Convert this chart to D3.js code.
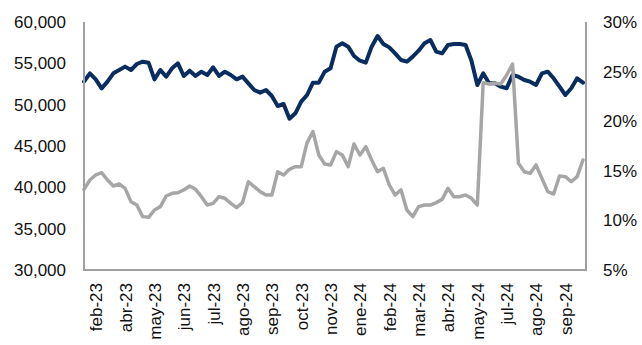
<!DOCTYPE html>
<html>
<head>
<meta charset="utf-8">
<script src="https://cdn.jsdelivr.net/npm/d3@7"></script>
<style>
  html, body { margin: 0; padding: 0; background: #fff; }
  svg { display: block; }
  text { font-family: "Liberation Sans", Arial, sans-serif; }
</style>
</head>
<body>
<svg id="chart" width="642" height="345"></svg>
<script>
// Tick labels along the x axis (one every `tickEvery` weekly observations)
const tickLabels = ["feb-23","abr-23","may-23","jun-23","jul-23","ago-23","sep-23","oct-23","nov-23",
  "ene-24","feb-24","mar-24","abr-24","may-24","jul-24","ago-24","sep-24"];
const tickStart = 2;
const tickEvery = 5;

// Left-axis series (navy), weekly observations
const seriesLevel = [
  52780,53790,53065,51980,52780,53790,54190,54600,54190,54920,
  55200,55080,53065,54190,53390,54400,55000,53470,54110,53470,
  53990,53590,54520,53470,53990,53590,53065,53390,52580,51775,
  51450,51775,51050,49840,50080,48300,48950,50360,51170,52660,
  52660,53990,54400,57016,57420,57016,55890,55320,55080,57016,
  58306,57340,56930,56210,55400,55200,55810,56530,57420,57820,
  56410,56210,57220,57340,57340,57220,55320,52380,53790,52580,
  52580,52180,51980,53590,53390,52980,52780,52380,53790,53990,
  53190,52180,51170,51980,53190,52660
];

// Right-axis series (grey, %), weekly observations
const seriesPct = [
  13.13,14.07,14.58,14.81,14.07,13.47,13.67,13.23,11.89,11.55,
  10.38,10.31,11.05,11.39,12.46,12.73,12.79,13.07,13.47,13.13,
  12.39,11.55,11.72,12.39,12.23,11.72,11.29,11.79,13.90,13.40,
  12.90,12.56,12.56,14.91,14.58,15.15,15.42,15.42,17.84,18.95,
  16.59,15.69,15.59,16.93,16.59,15.42,17.70,16.59,17.43,16.09,
  14.91,15.25,13.57,12.56,13.07,11.05,10.38,11.39,11.55,11.55,
  11.79,12.12,13.23,12.39,12.39,12.56,12.23,11.55,23.88,23.75,
  23.82,23.75,24.66,25.77,15.75,14.91,14.74,15.59,14.24,12.90,
  12.66,14.48,14.41,13.90,14.41,16.09
];

const leftTicks = [30000,35000,40000,45000,50000,55000,60000];
const rightTicks = [5,10,15,20,25,30];

const svg = d3.select("#chart");
const plot = { left: 84, right: 586, top: 22, bottom: 270, dataRight: 583 };

const x = d3.scaleLinear().domain([0, seriesLevel.length - 1]).range([plot.left, plot.dataRight]);
const yL = d3.scaleLinear().domain([30000, 60000]).range([plot.bottom, plot.top]);
const yR = d3.scaleLinear().domain([5, 30]).range([plot.bottom, plot.top]);

const frameColor = "#a0a0a0";
const textColor = "#111";
const fontSize = "17px";

// Lines
const lineL = d3.line().x((d, i) => x(i)).y(d => yL(d)).curve(d3.curveLinear);
const lineR = d3.line().x((d, i) => x(i)).y(d => yR(d)).curve(d3.curveLinear);

svg.append("path").datum(seriesLevel)
  .attr("d", lineL).attr("fill", "none")
  .attr("stroke", "#0a2d5f").attr("stroke-width", 4)
  .attr("stroke-linejoin", "round").attr("stroke-linecap", "round");

svg.append("path").datum(seriesPct)
  .attr("d", lineR).attr("fill", "none")
  .attr("stroke", "#a6a6a6").attr("stroke-width", 3.5)
  .attr("stroke-linejoin", "round").attr("stroke-linecap", "round");

// Frame lines (left, bottom, right)
const frame = svg.append("g").attr("stroke", frameColor).attr("stroke-width", 2).attr("fill", "none");
frame.append("path").attr("d", `M${plot.left},${plot.top}V${plot.bottom}H${plot.right}V${plot.top}`);

// Left axis
const axL = svg.append("g").attr("transform", `translate(${plot.left},0)`)
  .call(d3.axisLeft(yL).tickValues(leftTicks).tickFormat(d3.format(",")).tickSize(0).tickPadding(18));
axL.select(".domain").remove();
axL.selectAll("text").attr("fill", textColor).style("font-size", fontSize)
  .style("font-family", "'Liberation Sans', Arial, sans-serif");

// Right axis
const axR = svg.append("g").attr("transform", `translate(${plot.right},0)`)
  .call(d3.axisRight(yR).tickValues(rightTicks).tickFormat(d => d + "%").tickSize(0).tickPadding(17));
axR.select(".domain").remove();
axR.selectAll("text").attr("fill", textColor).style("font-size", fontSize)
  .style("font-family", "'Liberation Sans', Arial, sans-serif");

// Bottom axis
const tickIdx = tickLabels.map((_, i) => tickStart + i * tickEvery);
const axB = svg.append("g").attr("transform", `translate(0,${plot.bottom})`)
  .call(d3.axisBottom(x).tickValues(tickIdx).tickFormat((d, i) => tickLabels[i]).tickSize(0));
axB.select(".domain").remove();
axB.selectAll("text")
  .attr("fill", textColor).style("font-size", fontSize)
  .style("font-family", "'Liberation Sans', Arial, sans-serif")
  .attr("transform", "rotate(-90)")
  .attr("x", -13).attr("y", 0).attr("dy", "0.35em")
  .attr("text-anchor", "end");
</script>
</body>
</html>
